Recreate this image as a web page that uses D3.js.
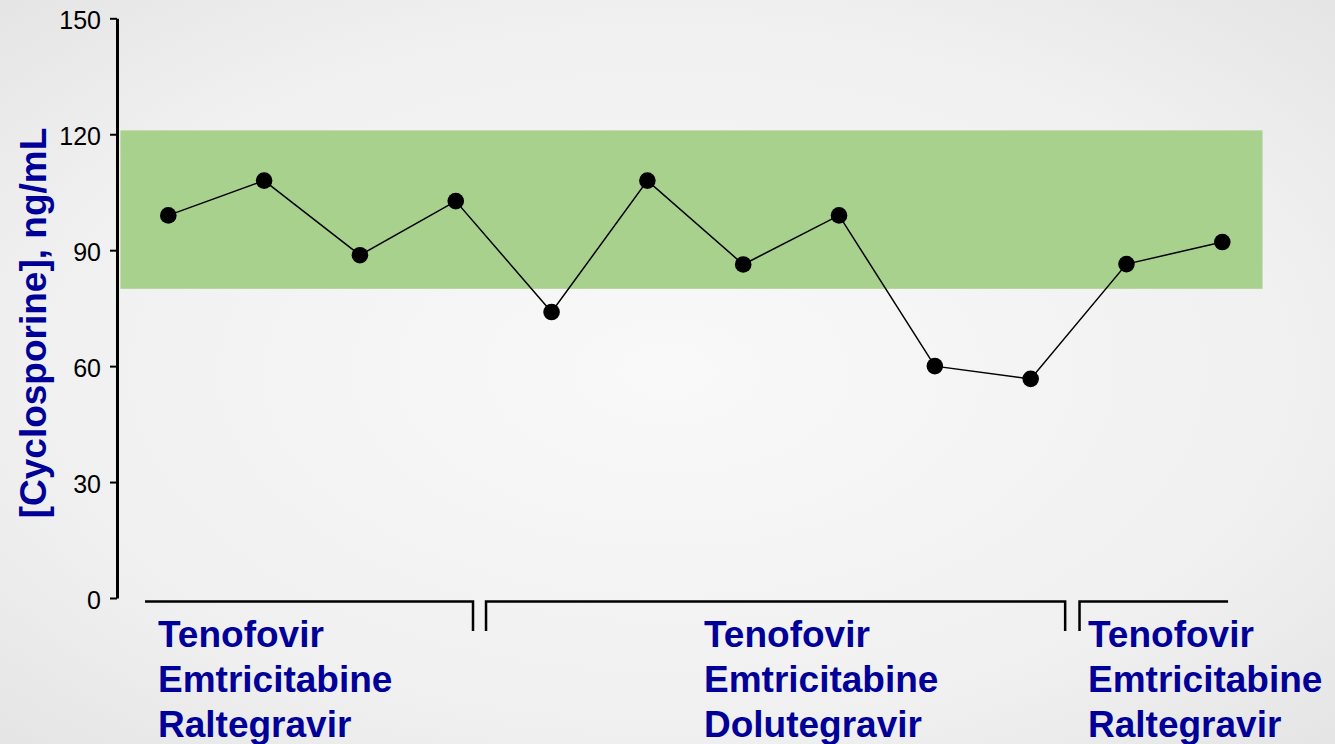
<!DOCTYPE html>
<html>
<head>
<meta charset="utf-8">
<script src="https://cdn.jsdelivr.net/npm/d3@7/dist/d3.min.js"></script>
<style>
  html, body { margin: 0; padding: 0; }
  body { width: 1335px; height: 744px; overflow: hidden; }
  svg { display: block; }
</style>
</head>
<body>
<svg id="chart" width="1335" height="744"></svg>
<script>
// Cyclosporine trough levels per visit
const visits = [1, 2, 3, 4, 5, 6, 7, 8, 9, 10, 11, 12];
const cyclosporine = [99, 108, 88.7, 102.7, 74, 108, 86.3, 99, 60, 56.7, 86.4, 92.1];

// Therapeutic target range (ng/mL)
const targetRange = [80, 121];

// Y axis ticks
const yTicks = [0, 30, 60, 90, 120, 150];

// Antiretroviral regimens over the visits
const regimenNames = [
  ["Tenofovir", "Emtricitabine", "Raltegravir"],
  ["Tenofovir", "Emtricitabine", "Dolutegravir"],
  ["Tenofovir", "Emtricitabine", "Raltegravir"]
];
const regimenFirstVisit = [1, 5, 11];
const regimenLastVisit = [4, 10, 12];

const yTitle = "[Cyclosporine], ng/mL";

const svg = d3.select("#chart");
const W = 1335, H = 744;

// Soft radial backdrop
const defs = svg.append("defs");
const grad = defs.append("radialGradient")
  .attr("id", "bg").attr("cx", "50%").attr("cy", "50%").attr("r", "80%");
grad.append("stop").attr("offset", "0%").attr("stop-color", "#f9f9f9");
grad.append("stop").attr("offset", "60%").attr("stop-color", "#f0f0f0");
grad.append("stop").attr("offset", "100%").attr("stop-color", "#e0e0e0");
svg.append("rect").attr("width", W).attr("height", H).attr("fill", "url(#bg)");

const x = d3.scaleLinear().domain([1, 12]).range([168.3, 1222.3]);
const y = d3.scaleLinear().domain([0, 150]).range([598, 18.3]);

// Target band
svg.append("rect")
  .attr("x", x(0.5))
  .attr("width", x(12.42) - x(0.5))
  .attr("y", y(targetRange[1]))
  .attr("height", y(targetRange[0]) - y(targetRange[1]))
  .attr("fill", "#a9d18e");

// Y axis
const axis = svg.append("g")
  .attr("transform", "translate(117,0)")
  .call(d3.axisLeft(y).tickValues(yTicks).tickSize(7).tickSizeOuter(0).tickPadding(9));
axis.select(".domain").attr("stroke", "#000").attr("stroke-width", 3);
axis.selectAll(".tick line").attr("stroke", "#000").attr("stroke-width", 2);
axis.selectAll(".tick text")
  .attr("fill", "#000")
  .style("font-family", "'Liberation Sans', Arial, sans-serif")
  .style("font-size", "25px")
  .attr("dy", "0.4em");

// Y axis title
svg.append("text")
  .attr("transform", `translate(46,${(128 + 518) / 2}) rotate(-90)`)
  .attr("text-anchor", "middle")
  .attr("fill", "#000099")
  .style("font-family", "'Liberation Sans', Arial, sans-serif")
  .style("font-weight", "bold")
  .style("font-size", "37px")
  .text(yTitle);

// Connecting line and points
const line = d3.line().x((d, i) => x(visits[i])).y(d => y(d));
svg.append("path")
  .datum(cyclosporine)
  .attr("d", line)
  .attr("fill", "none")
  .attr("stroke", "#000")
  .attr("stroke-width", 1.5);

svg.selectAll("circle.pt")
  .data(cyclosporine)
  .join("circle")
  .attr("class", "pt")
  .attr("cx", (d, i) => x(visits[i]))
  .attr("cy", d => y(d))
  .attr("r", 8.3)
  .attr("fill", "#000");

// Regimen brackets below the axis (left/right extents relative to visits)
const bracketY = 601.5, bracketDrop = 631;
const bracketPad = [[-0.243, 0.18], [-0.684, 0.36], [-0.49, 0.06]];
const bracketTicks = [["right"], ["left", "right"], ["left"]];
regimenFirstVisit.forEach((v0, k) => {
  const x0 = x(v0 + bracketPad[k][0]);
  const x1 = x(regimenLastVisit[k] + bracketPad[k][1]);
  let p = "";
  if (bracketTicks[k].includes("left")) p += `M${x0},${bracketDrop}V${bracketY}`;
  else p += `M${x0},${bracketY}`;
  p += `H${x1}`;
  if (bracketTicks[k].includes("right")) p += `V${bracketDrop}`;
  svg.append("path").attr("d", p)
    .attr("fill", "none").attr("stroke", "#000").attr("stroke-width", 2.5);
});

// Regimen labels
const labelX = [158, 704, 1088];
regimenNames.forEach((names, k) => {
  const t = svg.append("text")
    .attr("fill", "#000099")
    .style("font-family", "'Liberation Sans', Arial, sans-serif")
    .style("font-weight", "bold")
    .style("font-size", "37px");
  names.forEach((n, j) => {
    t.append("tspan").attr("x", labelX[k]).attr("y", 647 + j * 45).text(n);
  });
});
</script>
</body>
</html>
